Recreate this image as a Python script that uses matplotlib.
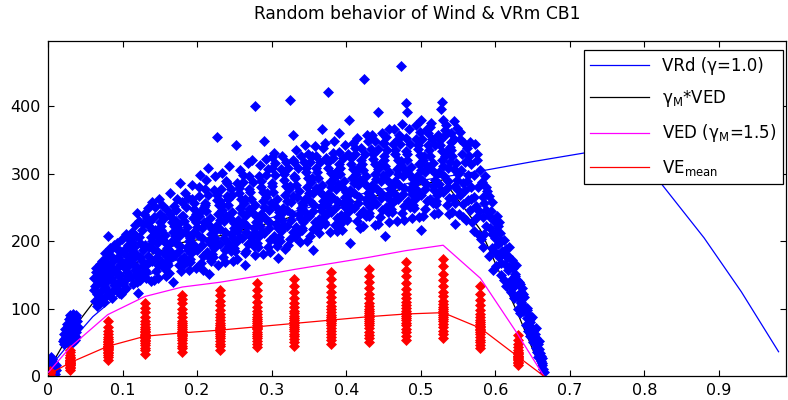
import matplotlib
matplotlib.use("Agg")
import matplotlib.pyplot as plt

plt.rcParams["font.family"] = ["DejaVu Sans"]
plt.rcParams["mathtext.default"] = "regular"

# Curvas
x_curvas = [0, 0.03, 0.08, 0.13, 0.18, 0.23, 0.28, 0.33, 0.38, 0.43, 0.48, 0.53, 0.58, 0.63, 0.665]
ve_mean = [2, 20, 44, 59, 64, 68, 73, 78, 83, 88, 92, 94, 71, 29, 0]
ved = [5, 43, 91, 118, 132, 139, 148, 158, 167, 176, 186, 194, 145, 62, 0]
gm_ved = [8, 65, 137, 177, 198, 208, 222, 237, 250, 264, 279, 291, 217, 93, 0]

x_vrd = [0, 0.03, 0.06, 0.09, 0.12, 0.2, 0.3, 0.4, 0.5, 0.58, 0.65, 0.72, 0.765, 0.8, 0.825, 0.88, 0.93, 0.98]
vrd = [10, 50, 88, 116, 140, 190, 235, 265, 290, 304, 318, 331, 342, 322, 282, 205, 125, 36]

# Franjas rojas (VE aleatorio en cada punto)
x_franjas = [0.003, 0.03, 0.08, 0.13, 0.18, 0.23, 0.28, 0.33, 0.38, 0.43, 0.48, 0.53, 0.58, 0.63]
y_franjas = [
    [2, 4, 6, 8],
    [9, 12, 14, 16, 17, 18, 19, 20, 21, 22, 23, 24, 26, 28, 31, 35, 39],
    [24, 28, 31, 34, 36, 38, 40, 41, 43, 44, 45, 47, 48, 50, 52, 55, 58, 62, 67, 73, 81],
    [33, 38, 42, 46, 49, 52, 54, 56, 58, 59, 61, 63, 65, 67, 70, 73, 77, 82, 88, 95, 101, 108],
    [36, 41, 45, 49, 53, 56, 59, 61, 63, 65, 67, 69, 72, 75, 78, 82, 87, 93, 100, 108, 114, 120],
    [39, 44, 48, 52, 56, 59, 62, 65, 67, 69, 71, 73, 76, 79, 83, 87, 92, 98, 105, 112, 120, 128],
    [43, 48, 52, 56, 60, 63, 66, 69, 71, 73, 75, 78, 81, 84, 88, 92, 97, 103, 110, 118, 128, 138],
    [45, 50, 55, 59, 63, 67, 70, 73, 76, 78, 80, 83, 86, 89, 93, 97, 102, 108, 116, 125, 134, 144],
    [48, 53, 58, 63, 67, 71, 75, 78, 81, 83, 85, 88, 91, 95, 99, 104, 110, 117, 125, 134, 144, 154],
    [51, 56, 61, 66, 71, 75, 79, 82, 85, 88, 90, 93, 96, 100, 104, 109, 115, 122, 130, 139, 149, 159],
    [54, 60, 65, 70, 75, 79, 83, 86, 89, 92, 94, 97, 101, 105, 110, 115, 121, 129, 138, 148, 158, 169],
    [56, 62, 67, 72, 77, 81, 85, 88, 91, 94, 96, 99, 103, 107, 112, 118, 125, 133, 142, 152, 163, 174],
    [41, 46, 50, 54, 58, 62, 65, 68, 70, 72, 74, 77, 80, 83, 87, 92, 98, 105, 113, 122, 133],
    [16, 19, 21, 23, 25, 27, 28, 29, 30, 32, 34, 36, 39, 43, 48, 54, 61],
]

# Nube azul (viento aleatorio)
viento = [
    (0.002, 4), (0.004, 11), (0.003, 18), (0.006, 7), (0.005, 25), (0.008, 14), (0.007, 21), (0.009, 3),
    (0.010, 9), (0.011, 17), (0.004, 28), (0.006, 13),
    (0.020, 52), (0.022, 47), (0.024, 58), (0.021, 63), (0.026, 50), (0.025, 68), (0.028, 55), (0.027, 74),
    (0.030, 48), (0.029, 62), (0.031, 80), (0.032, 57), (0.033, 69), (0.034, 86), (0.035, 61), (0.036, 75),
    (0.037, 91), (0.038, 66), (0.039, 82), (0.036, 53), (0.033, 92), (0.030, 71), (0.028, 84), (0.025, 77),
    (0.023, 70), (0.034, 50), (0.037, 58), (0.040, 72), (0.031, 88), (0.027, 64), (0.022, 55), (0.035, 79),
    (0.038, 87), (0.032, 73), (0.029, 90),
    (0.061, 128), (0.062, 145), (0.063, 112), (0.064, 160), (0.065, 104), (0.066, 137), (0.067, 152), (0.068, 118),
    (0.069, 166), (0.063, 133), (0.066, 122), (0.068, 143), (0.070, 108), (0.064, 155),
    (0.071, 126), (0.072, 171), (0.073, 113), (0.074, 149), (0.075, 160), (0.076, 132), (0.077, 182), (0.078, 119),
    (0.079, 141), (0.072, 155), (0.075, 110), (0.077, 167), (0.079, 176), (0.073, 138), (0.078, 152),
    (0.081, 207), (0.082, 124), (0.083, 163), (0.084, 145), (0.085, 188), (0.086, 116), (0.087, 171), (0.088, 135),
    (0.089, 195), (0.082, 152), (0.084, 178), (0.086, 158), (0.088, 127), (0.083, 190), (0.087, 141),
    (0.091, 130), (0.092, 197), (0.093, 152), (0.094, 176), (0.095, 123), (0.096, 185), (0.097, 141), (0.098, 166),
    (0.099, 203), (0.092, 160), (0.094, 135), (0.096, 150), (0.098, 122), (0.093, 188), (0.097, 172),
    (0.101, 138), (0.102, 182), (0.103, 160), (0.104, 211), (0.105, 130), (0.106, 171), (0.107, 195), (0.108, 148),
    (0.109, 203), (0.102, 127), (0.104, 190), (0.106, 154), (0.108, 176), (0.103, 143), (0.109, 165),
    (0.111, 147), (0.112, 213), (0.113, 168), (0.114, 136), (0.115, 192), (0.116, 224), (0.117, 158), (0.118, 181),
    (0.119, 140), (0.112, 199), (0.114, 173), (0.116, 150), (0.118, 207), (0.113, 186), (0.119, 162),
    (0.119, 242), (0.120, 123), (0.121, 155), (0.122, 230), (0.123, 176), (0.124, 198), (0.125, 148), (0.126, 217),
    (0.127, 187), (0.128, 163), (0.129, 240), (0.122, 206), (0.124, 143), (0.126, 170), (0.128, 225), (0.130, 195),
    # 0.13 - 0.20
    (0.131, 155), (0.138, 206), (0.134, 178), (0.136, 229), (0.132, 165), (0.139, 217), (0.135, 191), (0.133, 235),
    (0.137, 171), (0.140, 200), (0.130, 158), (0.136, 223), (0.134, 249), (0.138, 141), (0.132, 146), (0.139, 258),
    (0.141, 189), (0.148, 164), (0.144, 216), (0.146, 177), (0.142, 236), (0.149, 205), (0.145, 156), (0.143, 212),
    (0.147, 184), (0.150, 228), (0.140, 171), (0.146, 198), (0.143, 251), (0.147, 146), (0.149, 263), (0.142, 143),
    (0.151, 223), (0.158, 179), (0.154, 202), (0.156, 164), (0.152, 216), (0.159, 190), (0.155, 234), (0.153, 169),
    (0.157, 209), (0.160, 196), (0.150, 241), (0.156, 183), (0.153, 254), (0.158, 149), (0.155, 160), (0.159, 247),
    (0.161, 164), (0.168, 213), (0.164, 186), (0.166, 235), (0.162, 174), (0.169, 223), (0.165, 199), (0.163, 241),
    (0.167, 180), (0.170, 207), (0.160, 168), (0.166, 229), (0.164, 271), (0.168, 139), (0.162, 153), (0.169, 252),
    (0.171, 197), (0.178, 172), (0.174, 226), (0.176, 186), (0.172, 246), (0.179, 214), (0.175, 164), (0.173, 221),
    (0.177, 193), (0.180, 237), (0.170, 179), (0.176, 207), (0.177, 286), (0.173, 262), (0.178, 156), (0.171, 230),
    (0.181, 238), (0.188, 187), (0.184, 213), (0.186, 171), (0.182, 230), (0.189, 200), (0.185, 250), (0.183, 177),
    (0.187, 221), (0.190, 207), (0.180, 258), (0.186, 192), (0.184, 271), (0.189, 158), (0.182, 166), (0.188, 264),
    (0.191, 169), (0.198, 228), (0.194, 196), (0.196, 256), (0.192, 182), (0.199, 241), (0.195, 212), (0.193, 263),
    (0.197, 188), (0.200, 221), (0.190, 173), (0.196, 248), (0.193, 283), (0.198, 160), (0.195, 234), (0.191, 205),
    # 0.20 - 0.30
    (0.201, 209), (0.208, 178), (0.204, 243), (0.206, 195), (0.202, 267), (0.209, 229), (0.205, 168), (0.203, 238),
    (0.207, 204), (0.210, 257), (0.200, 187), (0.206, 220), (0.204, 298), (0.208, 157), (0.202, 281), (0.209, 250),
    (0.211, 253), (0.218, 196), (0.214, 226), (0.216, 177), (0.212, 245), (0.219, 210), (0.215, 268), (0.213, 184),
    (0.217, 235), (0.220, 218), (0.210, 277), (0.216, 201), (0.215, 308), (0.216, 152), (0.218, 170), (0.212, 291),
    (0.221, 177), (0.228, 240), (0.224, 205), (0.226, 269), (0.222, 190), (0.229, 253), (0.225, 222), (0.223, 276),
    (0.227, 197), (0.230, 232), (0.220, 181), (0.226, 261), (0.226, 355), (0.224, 296), (0.228, 165), (0.222, 214),
    (0.231, 218), (0.238, 187), (0.234, 253), (0.236, 204), (0.232, 277), (0.239, 238), (0.235, 177), (0.233, 247),
    (0.237, 213), (0.240, 267), (0.230, 196), (0.236, 230), (0.233, 301), (0.238, 169), (0.231, 260), (0.239, 289),
    (0.241, 263), (0.248, 205), (0.244, 235), (0.246, 186), (0.242, 254), (0.249, 220), (0.245, 278), (0.243, 193),
    (0.247, 244), (0.250, 227), (0.240, 287), (0.246, 211), (0.243, 312), (0.248, 171), (0.242, 198), (0.247, 268),
    (0.251, 186), (0.258, 249), (0.254, 215), (0.256, 279), (0.252, 199), (0.259, 263), (0.255, 232), (0.253, 286),
    (0.257, 206), (0.260, 242), (0.250, 190), (0.256, 271), (0.252, 343), (0.257, 306), (0.254, 173), (0.259, 224),
    (0.261, 228), (0.268, 196), (0.264, 263), (0.266, 213), (0.262, 288), (0.269, 248), (0.265, 185), (0.263, 257),
    (0.267, 222), (0.270, 278), (0.260, 205), (0.266, 239), (0.264, 164), (0.264, 183), (0.268, 316), (0.262, 298),
    (0.271, 273), (0.278, 213), (0.274, 244), (0.276, 193), (0.272, 263), (0.279, 228), (0.275, 288), (0.273, 200),
    (0.277, 253), (0.280, 236), (0.270, 297), (0.276, 219), (0.277, 400), (0.273, 321), (0.278, 179), (0.272, 206),
    (0.281, 192), (0.288, 259), (0.284, 222), (0.286, 289), (0.282, 206), (0.289, 273), (0.285, 240), (0.283, 297),
    (0.287, 213), (0.290, 250), (0.280, 197), (0.286, 281), (0.290, 349), (0.284, 313), (0.288, 181), (0.282, 230),
    (0.291, 235), (0.298, 202), (0.294, 272), (0.296, 220), (0.292, 298), (0.299, 256), (0.295, 192), (0.293, 266),
    (0.297, 229), (0.300, 287), (0.290, 212), (0.296, 247), (0.300, 325), (0.293, 322), (0.298, 184), (0.295, 307),
    # 0.30 - 0.40
    (0.301, 282), (0.308, 220), (0.304, 252), (0.306, 200), (0.302, 273), (0.309, 236), (0.305, 298), (0.303, 207),
    (0.307, 262), (0.310, 244), (0.300, 308), (0.306, 226), (0.309, 175), (0.303, 331), (0.307, 193), (0.305, 316),
    (0.311, 201), (0.318, 268), (0.314, 232), (0.316, 299), (0.312, 215), (0.319, 282), (0.315, 249), (0.313, 307),
    (0.317, 222), (0.320, 260), (0.310, 206), (0.316, 291), (0.314, 326), (0.318, 188), (0.312, 240), (0.319, 317),
    (0.321, 246), (0.328, 214), (0.324, 282), (0.326, 231), (0.322, 308), (0.329, 267), (0.325, 203), (0.323, 277),
    (0.327, 241), (0.330, 297), (0.320, 223), (0.326, 258), (0.324, 410), (0.328, 357), (0.322, 195), (0.329, 320),
    (0.331, 294), (0.338, 234), (0.334, 265), (0.336, 214), (0.332, 284), (0.339, 249), (0.335, 309), (0.333, 221),
    (0.337, 274), (0.340, 257), (0.330, 318), (0.336, 240), (0.333, 336), (0.338, 199), (0.331, 206), (0.339, 327),
    (0.341, 216), (0.348, 280), (0.344, 245), (0.346, 309), (0.342, 229), (0.349, 294), (0.345, 262), (0.343, 317),
    (0.347, 236), (0.350, 272), (0.340, 220), (0.346, 302), (0.345, 343), (0.348, 201), (0.342, 253), (0.349, 330),
    (0.351, 259), (0.358, 228), (0.354, 294), (0.356, 245), (0.352, 318), (0.359, 279), (0.355, 218), (0.353, 288),
    (0.357, 254), (0.360, 308), (0.350, 237), (0.356, 271), (0.355, 187), (0.352, 207), (0.358, 341), (0.354, 326),
    (0.361, 302), (0.368, 245), (0.364, 275), (0.366, 226), (0.362, 294), (0.369, 259), (0.365, 317), (0.363, 233),
    (0.367, 284), (0.370, 267), (0.360, 326), (0.366, 250), (0.367, 367), (0.363, 212), (0.369, 338), (0.361, 220),
    (0.371, 225), (0.378, 288), (0.374, 253), (0.376, 317), (0.372, 238), (0.379, 301), (0.375, 270), (0.373, 324),
    (0.377, 245), (0.380, 280), (0.370, 229), (0.376, 309), (0.375, 422), (0.372, 346), (0.378, 213), (0.379, 262),
    (0.381, 265), (0.388, 234), (0.384, 300), (0.386, 251), (0.382, 324), (0.389, 285), (0.385, 224), (0.383, 294),
    (0.387, 260), (0.390, 314), (0.380, 243), (0.386, 277), (0.384, 349), (0.388, 215), (0.382, 331), (0.389, 306),
    (0.391, 308), (0.398, 251), (0.394, 281), (0.396, 232), (0.392, 300), (0.399, 265), (0.395, 323), (0.393, 239),
    (0.397, 290), (0.400, 273), (0.390, 332), (0.396, 256), (0.390, 360), (0.394, 217), (0.398, 342), (0.392, 226),
    # 0.40 - 0.50
    (0.401, 231), (0.408, 294), (0.404, 259), (0.406, 323), (0.402, 244), (0.409, 307), (0.405, 276), (0.403, 330),
    (0.407, 251), (0.410, 286), (0.400, 235), (0.406, 315), (0.404, 380), (0.405, 198), (0.409, 345), (0.402, 268),
    (0.411, 271), (0.418, 240), (0.414, 306), (0.416, 257), (0.412, 330), (0.419, 291), (0.415, 230), (0.413, 300),
    (0.417, 266), (0.420, 320), (0.410, 249), (0.416, 283), (0.414, 353), (0.418, 220), (0.412, 338), (0.419, 312),
    (0.421, 314), (0.428, 257), (0.424, 287), (0.426, 238), (0.422, 306), (0.429, 271), (0.425, 329), (0.423, 245),
    (0.427, 296), (0.430, 279), (0.420, 338), (0.426, 262), (0.424, 441), (0.428, 358), (0.422, 222), (0.429, 348),
    (0.431, 237), (0.438, 300), (0.434, 265), (0.436, 330), (0.432, 250), (0.439, 314), (0.435, 283), (0.433, 337),
    (0.437, 258), (0.440, 293), (0.430, 242), (0.436, 322), (0.434, 357), (0.438, 224), (0.432, 275), (0.439, 348),
    (0.441, 278), (0.448, 246), (0.444, 313), (0.446, 264), (0.442, 337), (0.449, 298), (0.445, 236), (0.443, 307),
    (0.447, 272), (0.450, 327), (0.440, 255), (0.446, 290), (0.443, 392), (0.448, 361), (0.442, 226), (0.449, 345),
    (0.451, 321), (0.458, 263), (0.454, 293), (0.456, 243), (0.452, 312), (0.459, 277), (0.455, 336), (0.453, 251),
    (0.457, 302), (0.460, 285), (0.450, 345), (0.456, 269), (0.457, 367), (0.452, 207), (0.458, 228), (0.454, 355),
    (0.461, 243), (0.468, 307), (0.464, 272), (0.466, 336), (0.462, 256), (0.469, 321), (0.465, 289), (0.463, 344),
    (0.467, 263), (0.470, 300), (0.460, 248), (0.466, 329), (0.464, 366), (0.468, 230), (0.462, 281), (0.469, 352),
    (0.471, 284), (0.478, 252), (0.474, 319), (0.476, 270), (0.472, 344), (0.479, 305), (0.475, 242), (0.473, 313),
    (0.477, 279), (0.480, 334), (0.470, 262), (0.476, 297), (0.473, 460), (0.475, 374), (0.478, 232), (0.471, 358),
    (0.481, 329), (0.488, 270), (0.484, 300), (0.486, 251), (0.482, 320), (0.489, 285), (0.485, 344), (0.483, 259),
    (0.487, 310), (0.490, 292), (0.480, 353), (0.486, 277), (0.480, 405), (0.482, 392), (0.488, 234), (0.484, 366),
    (0.491, 249), (0.498, 314), (0.494, 278), (0.496, 343), (0.492, 263), (0.499, 328), (0.495, 296), (0.493, 351),
    (0.497, 270), (0.500, 306), (0.490, 253), (0.496, 337), (0.494, 372), (0.498, 236), (0.492, 287), (0.499, 362),
    # 0.50 - 0.55
    (0.501, 291), (0.508, 259), (0.504, 327), (0.506, 277), (0.502, 352), (0.509, 312), (0.505, 248), (0.503, 321),
    (0.507, 285), (0.510, 342), (0.500, 268), (0.506, 303), (0.500, 380), (0.500, 217), (0.508, 366), (0.503, 238),
    (0.511, 336), (0.518, 276), (0.514, 307), (0.516, 256), (0.512, 326), (0.519, 291), (0.515, 351), (0.513, 263),
    (0.517, 316), (0.520, 299), (0.510, 360), (0.516, 282), (0.514, 376), (0.518, 240), (0.512, 370), (0.519, 343),
    (0.521, 255), (0.528, 320), (0.524, 285), (0.526, 350), (0.522, 269), (0.529, 334), (0.525, 303), (0.523, 358),
    (0.527, 276), (0.530, 312), (0.520, 259), (0.526, 342), (0.528, 407), (0.530, 380), (0.527, 396), (0.523, 242),
    (0.531, 296), (0.538, 264), (0.534, 332), (0.536, 281), (0.532, 357), (0.539, 317), (0.535, 253), (0.533, 326),
    (0.537, 290), (0.540, 347), (0.530, 273), (0.536, 308), (0.534, 372), (0.538, 241), (0.532, 365), (0.539, 340),
    (0.541, 336), (0.548, 277), (0.544, 307), (0.546, 257), (0.542, 327), (0.549, 291), (0.545, 351), (0.543, 264),
    (0.547, 316), (0.550, 299), (0.540, 360), (0.546, 282), (0.544, 378), (0.546, 226), (0.548, 368), (0.542, 244),
    # bajada
    (0.551, 240), (0.552, 352), (0.553, 268), (0.554, 305), (0.555, 330), (0.556, 255), (0.557, 287), (0.558, 345),
    (0.559, 318), (0.553, 362), (0.557, 236), (0.559, 276),
    (0.561, 232), (0.562, 338), (0.563, 261), (0.564, 298), (0.565, 327), (0.566, 246), (0.567, 280), (0.568, 314),
    (0.569, 229), (0.562, 290), (0.566, 347), (0.568, 263),
    (0.571, 215), (0.572, 298), (0.573, 344), (0.574, 252), (0.575, 320), (0.576, 236), (0.577, 280), (0.578, 209),
    (0.579, 306), (0.572, 266), (0.576, 330), (0.578, 245),
    (0.581, 203), (0.582, 288), (0.583, 236), (0.584, 265), (0.585, 211), (0.586, 296), (0.587, 247), (0.588, 223),
    (0.589, 275), (0.583, 192), (0.585, 257), (0.588, 281),
    (0.591, 178), (0.592, 267), (0.593, 219), (0.594, 245), (0.595, 190), (0.596, 258), (0.597, 158), (0.598, 230),
    (0.599, 205), (0.592, 238), (0.596, 211), (0.599, 184),
    (0.601, 163), (0.602, 237), (0.603, 196), (0.604, 222), (0.605, 176), (0.606, 212), (0.607, 150), (0.608, 201),
    (0.609, 186), (0.602, 215), (0.605, 228), (0.608, 167),
    (0.611, 143), (0.612, 202), (0.613, 166), (0.614, 188), (0.615, 133), (0.616, 176), (0.617, 158), (0.618, 192),
    (0.619, 138), (0.613, 180), (0.617, 178), (0.619, 161),
    (0.621, 125), (0.622, 172), (0.623, 144), (0.624, 160), (0.625, 116), (0.626, 152), (0.627, 135), (0.628, 165),
    (0.629, 143), (0.623, 130), (0.627, 149), (0.629, 118),
    (0.631, 100), (0.632, 140), (0.633, 93), (0.634, 124), (0.635, 110), (0.636, 131), (0.637, 96), (0.638, 117),
    (0.639, 103), (0.633, 136), (0.637, 121), (0.634, 108),
    (0.641, 75), (0.642, 98), (0.643, 86), (0.644, 67), (0.645, 91), (0.646, 60), (0.647, 80), (0.648, 72),
    (0.649, 88), (0.643, 101), (0.646, 84), (0.649, 64),
    (0.651, 50), (0.652, 68), (0.653, 63), (0.654, 42), (0.655, 56), (0.656, 35), (0.657, 48), (0.658, 40),
    (0.659, 52), (0.652, 59), (0.655, 71), (0.657, 28),
    (0.660, 34), (0.661, 22), (0.662, 16), (0.663, 27), (0.664, 11), (0.665, 6), (0.661, 30), (0.663, 19),
]


def graficar():

    fig = plt.figure(figsize=(7.88, 4.0), dpi=100)
    ax = fig.add_axes([0.061, 0.06, 0.9365, 0.8375])

    # Curvas
    ax.plot(x_vrd, vrd, color="#0000ff", linewidth=0.9, label="VRd (γ=1.0)", zorder=1)
    ax.plot(x_curvas, gm_ved, color="black", linewidth=0.9, label="γ$_{M}$*VED", zorder=1)
    ax.plot(x_curvas, ved, color="#ff00ff", linewidth=0.9, label="VED (γ$_{M}$=1.5)", zorder=3)
    ax.plot(x_curvas, ve_mean, color="#ff0000", linewidth=0.9, label="VE$_{mean}$", zorder=3)

    # Nube de viento
    vx = [p[0] for p in viento]
    vy = [p[1] for p in viento]
    ax.plot(vx, vy, linestyle="none", marker="D", markersize=5,
            color="#0000ff", markeredgewidth=0.5, zorder=2)

    # Franjas rojas
    fx = []
    fy = []
    for x, ys in zip(x_franjas, y_franjas):
        fx += [x] * len(ys)
        fy += ys
    ax.plot(fx, fy, linestyle="none", marker="D", markersize=5,
            color="#ff0000", markeredgewidth=0.5, zorder=2)

    ax.set_xlim(0, 0.99)
    ax.set_ylim(0, 497)
    ax.set_xticks([0, 0.1, 0.2, 0.3, 0.4, 0.5, 0.6, 0.7, 0.8, 0.9])
    ax.set_xticklabels(["0", "0.1", "0.2", "0.3", "0.4", "0.5", "0.6", "0.7", "0.8", "0.9"])
    ax.set_yticks([0, 100, 200, 300, 400])
    ax.tick_params(direction="in", length=4, width=0.8, top=True, right=True,
                   labelsize=11.5, pad=5)
    for s in ax.spines.values():
        s.set_linewidth(0.9)

    ax.set_title("Random behavior of Wind & VRm CB1", fontsize=12.3, pad=16)

    leg = ax.legend(loc="upper right", bbox_to_anchor=(0.996, 0.973),
                    borderaxespad=0, fontsize=12, handlelength=3.5,
                    labelspacing=0.8, fancybox=False, framealpha=1)
    leg.get_frame().set_edgecolor("black")
    leg.get_frame().set_linewidth(0.9)

    fig.savefig("out.png", dpi=100, facecolor="white")


graficar()
